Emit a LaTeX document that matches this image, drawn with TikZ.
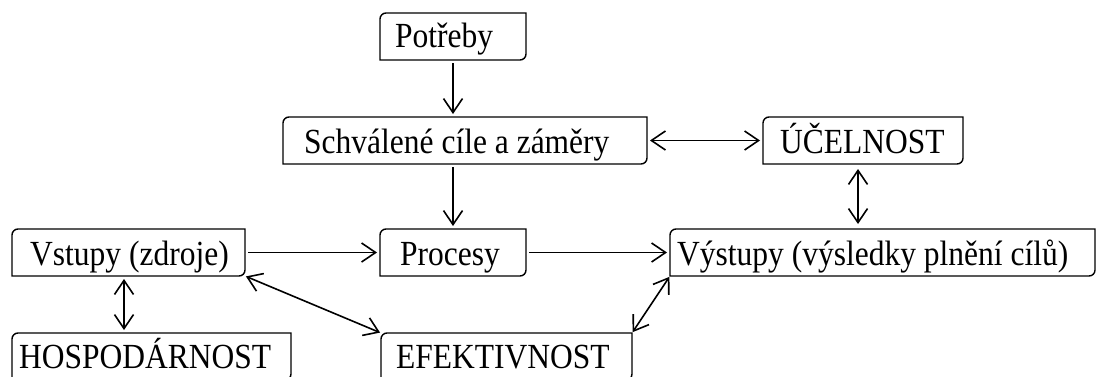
\documentclass[tikz,border=0pt]{standalone}
\usepackage{fontspec}
\setmainfont{Liberation Serif}
\usetikzlibrary{arrows.meta}
% box outline: top-left and bottom-right corners rounded, the other two square
\newcommand\outlinebox[1]{%
  \draw[line width=1.4pt] (#1.south west) -- ([yshift=-6pt]#1.north west)
    arc[start angle=180,end angle=90,radius=6pt] -- (#1.north east)
    -- ([yshift=6pt]#1.south east)
    arc[start angle=0,end angle=-90,radius=6pt] -- cycle;}
% slightly tall lettering
\newcommand\tall[1]{\scalebox{1}[1.12]{#1}}
\begin{document}
\begin{tikzpicture}[x=1pt,y=1pt,
  box/.style={draw=none,inner sep=0pt,outer sep=0pt,anchor=north west,minimum height=47pt},
  lbl/.style={anchor=base west,inner sep=0pt,font=\fontsize{31.5}{36}\selectfont},
  link/.style={line width=1.6pt,shorten <=3pt,shorten >=3pt},
  >={Straight Barb[length=14pt,width=19pt]}]
\useasboundingbox (0,0) rectangle (1099,376);

% boxes
\node[box,minimum width=146pt] (pot) at (380,363) {};
\node[box,minimum width=364pt] (sch) at (283,259) {};
\node[box,minimum width=200pt] (uce) at (763,259) {};
\node[box,minimum width=233pt] (vst) at (12,147) {};
\node[box,minimum width=146pt] (pro) at (380,147) {};
\node[box,minimum width=425pt] (vys) at (670,147) {};
\node[box,minimum width=279pt] (hos) at (12,43) {};
\node[box,minimum width=251pt] (efe) at (381,43) {};

\foreach \b in {pot,sch,uce,vst,pro,vys,hos,efe}{\outlinebox{\b}}

% labels
\node[lbl] (potT) at ([xshift=15pt,yshift=-34pt]pot.north west) {\tall{Potřeby}};
\node[lbl] (schT) at ([xshift=21pt,yshift=-36pt]sch.north west) {\tall{Schválené cíle a záměry}};
\node[lbl] (uceT) at ([xshift=17pt,yshift=-36pt]uce.north west) {\tall{ÚČELNOST}};
\node[lbl] (vstT) at ([xshift=18pt,yshift=-36pt]vst.north west) {\tall{Vstupy (zdroje)}};
\node[lbl] (proT) at ([xshift=20pt,yshift=-36pt]pro.north west) {\tall{Procesy}};
\node[lbl] (vysT) at ([xshift=7pt,yshift=-36pt]vys.north west) {\tall{Výstupy (výsledky plnění cílů)}};
\node[lbl] (hosT) at ([xshift=7pt,yshift=-35pt]hos.north west) {\tall{HOSPODÁRNOST}};
\node[lbl] (efeT) at ([xshift=15pt,yshift=-35pt]efe.north west) {\tall{EFEKTIVNOST}};

% connectors
\draw[link,->] (pot.south) -- (pot.south |- sch.north);
\draw[link,->] (pro.north |- sch.south) -- (pro.north);
\draw[link,<->] (sch.east) -- (sch.east -| uce.west);
\draw[link,<->,shorten <=5pt,shorten >=5pt] ([xshift=-5pt]uce.south) -- ([xshift=-5pt]uce.south |- vys.north);
\draw[link,->] (vst.east) -- (pro.west);
\draw[link,->] (pro.east) -- (vys.west);
\draw[link,<->,shorten <=1pt,shorten >=1pt] (vst.south east) -- (efe.north west);
\draw[link,<->] ([xshift=-4.5pt]vst.south) -- ([xshift=-4.5pt]vst.south |- hos.north);
\draw[link,<->,shorten <=1pt,shorten >=1pt] (efe.north east) -- (vys.south west);
\end{tikzpicture}
\end{document}
